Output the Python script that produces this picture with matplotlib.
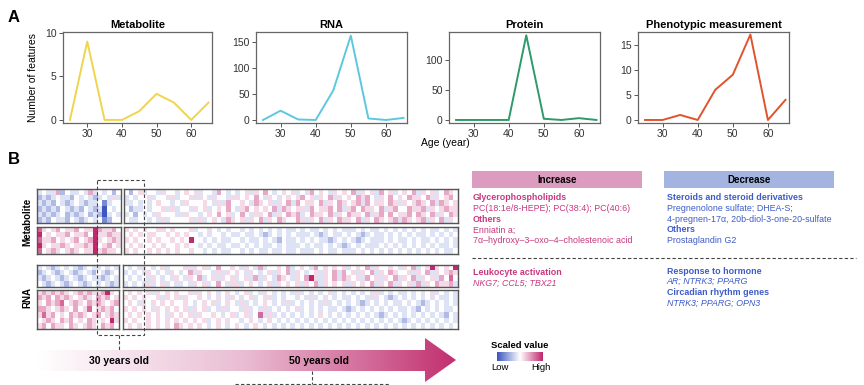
import numpy as np
import matplotlib
matplotlib.use("Agg")
import matplotlib.pyplot as plt
from matplotlib.colors import LinearSegmentedColormap
from matplotlib.patches import Polygon, Rectangle

plt.rcParams['font.family'] = ['Liberation Sans', 'DejaVu Sans']

# Panel A: number of features changing per age window
ages = [25, 30, 35, 40, 45, 50, 55, 60, 65]
metabolite = [0, 9, 0, 0, 1, 3, 2, 0, 2]
rna = [0, 18, 1, 0, 57, 163, 3, 0, 4]
protein = [0, 0, 0, 0, 140, 2, 0, 3, 0]
phenotype = [0, 0, 1, 0, 6, 9, 17, 0, 4]

# Panel B: scaled heatmap values, one digit per cell (4 = neutral, 0 = low, 8 = high)
# left block = young samples, right block = older samples
met_down_left = ["343362433436343424", "232343324343234353", "323243234323341344",
                 "232324323243230434", "323234232342320343", "232433243234341244"]
met_down_right = [
    "424534435443 454534436434 345354643454 534364543545 463545364534 546354534654",
    "343445344353 445354354435 545464354345 456453546354 546564354645 465546354564",
    "334343454434 354445435364 454365453546 364554635465 456364554653 545654636545",
    "423343445353 443545345464 356454546365 455364556463 564655463564 465563545655",
    "342434354443 354434546453 464355463546 563465546354 655463564645 564654635465",
    "433443435344 445353454365 453546354654 465354635465 546354654563 654563546354"]
met_up_left = ["754564556455865564", "845455645564855655", "755645456456854565",
               "854556545565845645", "745654565455856554"]
met_up_right = [
    "545454455454 445344543434 434343434343 343433434343 334343343434 343434334343",
    "454545544545 454434344343 343343234343 433343234334 343234334343 434334343434",
    "545445454454 548443434334 434334343243 343434332343 432343334343 343433434343",
    "454544545445 454434343343 343434334343 334343343432 343433343434 343434343343",
    "545445454545 445443434334 434343343343 343334343343 334343434343 434343434334"]
rna_down_left = ["343234343234334343", "234323432343243234",
                 "323432343234332343", "432343234323434323"]
rna_down_right = [
    "434354345344 453545346445 435436344546 345436454545 345463544543 546345854548",
    "343435434354 346354435354 543543453546 354345354636 453546354654 453546354565",
    "434343543435 435463453545 345363543654 354685354636 545364535463 546354536474",
    "343435345343 343545346435 534543453545 453546354545 354546354635 453635465563"]
rna_up_left = ["565656545656556854", "656465654565465645", "546567456546565456",
               "665456546457456564", "575645465654564565", "456546564546545485",
               "564655465456546564"]
rna_up_right = [
    "454545354545 445354543454 345343543434 353434345343 434343534343 343434534343",
    "545454453545 354454345435 434534353434 434353434343 343435343234 343434343343",
    "454354545454 454345453454 353434543435 343434353434 343234343433 434323434343",
    "545454354545 453545343534 435343534343 453434343343 234343434343 343243434334",
    "454545454354 545354454345 345347353434 343434543434 343434323434 343434343243",
    "545445454545 454545345454 434543454343 434343434343 434343434343 234343434343",
    "454545454546 545454345434 543454343434 343434343434 343434343434 343434343434"]

inc_color = "#c8387f"
dec_color = "#3d5cc6"
cmap = LinearSegmentedColormap.from_list("scaled", ["#3b56c0", "#ffffff", "#c2286e"])

W, H = 864, 385
fig = plt.figure(figsize=(W / 100, H / 100), dpi=100)


def px_axes(x0, y0, x1, y1):
    return fig.add_axes([x0 / W, 1 - y1 / H, (x1 - x0) / W, (y1 - y0) / H])


def parse(rows):
    a = np.array([[int(c) for c in r.replace(" ", "")] for r in rows], dtype=float)
    a = (a - 4) / 4
    return np.sign(a) * np.abs(a) ** 1.3


# ---- Panel A ----
line_panels = [
    ("Metabolite", metabolite, "#f0d44e", (63, 212), (-0.35, 10.1), [0, 5, 10]),
    ("RNA", rna, "#5cc8de", (256, 407), (-5.8, 170), [0, 50, 100, 150]),
    ("Protein", protein, "#2e9a68", (449, 600), (-5, 145.5), [0, 50, 100]),
    ("Phenotypic measurement", phenotype, "#e0532b", (638, 789), (-0.6, 17.5), [0, 5, 10, 15]),
]
for title, vals, col, (x0, x1), ylim, yt in line_panels:
    ax = px_axes(x0, 32, x1, 123)
    ax.plot(ages, vals, color=col, lw=1.4)
    ax.set_xlim(23, 66)
    ax.set_ylim(*ylim)
    ax.set_xticks([30, 40, 50, 60])
    ax.set_yticks(yt)
    ax.tick_params(length=3, width=0.7, color="#555555", labelsize=7.5,
                   labelcolor="#333333", pad=1.5)
    for s in ax.spines.values():
        s.set_color("#666666")
        s.set_linewidth(0.9)
    ax.set_title(title, fontsize=8, fontweight="bold", pad=3)

# ---- Panel B heatmaps ----
blocks = [
    (met_down_left, met_down_right, 189.3, 222.7, 120.7, 124.3),
    (met_up_left, met_up_right, 226.7, 254.3, 120.7, 124.3),
    (rna_down_left, rna_down_right, 264.7, 287.3, 119.0, 122.7),
    (rna_up_left, rna_up_right, 290.0, 329.3, 119.0, 122.7),
]
for left, right, y0, y1, xl1, xr0 in blocks:
    for rows, (x0, x1) in ((left, (37, xl1)), (right, (xr0, 457.7))):
        ax = px_axes(x0, y0, x1, y1)
        ax.imshow(parse(rows), cmap=cmap, vmin=-1, vmax=1, aspect="auto",
                  interpolation="nearest")
        ax.set_xticks([])
        ax.set_yticks([])
        for s in ax.spines.values():
            s.set_color("#555555")
            s.set_linewidth(1.0)

# colour legend
cax = px_axes(496.7, 352.3, 542.3, 361)
cax.imshow(np.linspace(-1, 1, 100)[None, :], cmap=cmap, vmin=-1, vmax=1, aspect="auto")
cax.axis("off")

# ---- overlay in pixel coordinates ----
ov = fig.add_axes([0, 0, 1, 1])
ov.set_xlim(0, W)
ov.set_ylim(H, 0)
ov.axis("off")
ov.set_zorder(10)

ov.text(8, 17, "A", fontsize=12, fontweight="bold", va="center")
ov.text(8, 160, "B", fontsize=12, fontweight="bold", va="center")
ov.text(33, 78, "Number of features", fontsize=7.5, rotation=90, ha="center", va="center")
ov.text(445, 143, "Age (year)", fontsize=7.5, ha="center", va="center")

ov.text(27, 222, "Metabolite", fontsize=7, fontweight="bold", rotation=90, ha="center", va="center")
ov.text(27, 298, "RNA", fontsize=7, fontweight="bold", rotation=90, ha="center", va="center")

# arrow with gradient
arrow = Polygon([(37, 350), (425, 350), (425, 338), (456, 360), (425, 382),
                 (425, 371), (37, 371)], closed=True, fc="none", ec="none")
ov.add_patch(arrow)
grad_cmap = LinearSegmentedColormap.from_list("arrow", ["#ffffff", "#e9bcd3", "#c2306f"])
im = ov.imshow(np.linspace(0, 1, 256)[None, :], cmap=grad_cmap, aspect="auto",
               extent=(37, 456, 382, 338), zorder=1)
im.set_clip_path(arrow)
ov.set_xlim(0, W)
ov.set_ylim(H, 0)
ov.text(119, 361, "30 years old", fontsize=7.5, fontweight="bold", ha="center", va="center", zorder=3)
ov.text(319, 361, "50 years old", fontsize=7.5, fontweight="bold", ha="center", va="center", zorder=3)

# dashed guides
dash = dict(color="#444444", lw=0.8, ls=(0, (3, 2)), zorder=4)
ov.add_patch(Rectangle((97, 180), 47, 155, fill=False, ec="#444444", lw=0.8,
                       ls=(0, (3, 2)), zorder=4))
ov.plot([119.3, 119.3], [335, 350], **dash)
ov.plot([311.7, 311.7], [371, 383.5], **dash)
ov.plot([235, 390], [383.5, 383.5], **dash)
ov.plot([472, 856], [257.7, 257.7], **dash)

# increase / decrease headers
ov.add_patch(Rectangle((471.7, 171), 170, 17.3, fc="#dc9cc0", ec="none"))
ov.add_patch(Rectangle((664, 171), 170, 17.3, fc="#a2b4df", ec="none"))
ov.text(556.7, 179.7, "Increase", fontsize=7, fontweight="bold", ha="center", va="center")
ov.text(749, 179.7, "Decrease", fontsize=7, fontweight="bold", ha="center", va="center")

fs = 6.4
inc_lines = [
    (197.7, "Glycerophospholipids", "bold", "normal"),
    (208.7, "PC(18:1e/8-HEPE); PC(38:4); PC(40:6)", "normal", "normal"),
    (219.3, "Others", "bold", "normal"),
    (230.0, "Enniatin a;", "normal", "normal"),
    (240.7, "7\u03b1\u2013hydroxy\u20133\u2013oxo\u20134\u2013cholestenoic acid", "normal", "normal"),
    (272.3, "Leukocyte activation", "bold", "normal"),
    (283.5, "NKG7; CCL5; TBX21", "normal", "italic"),
]
dec_lines = [
    (197.7, "Steroids and steroid derivatives", "bold", "normal"),
    (208.7, "Pregnenolone sulfate; DHEA-S;", "normal", "normal"),
    (219.3, "4-pregnen-17\u03b1, 20b-diol-3-one-20-sulfate", "normal", "normal"),
    (230.0, "Others", "bold", "normal"),
    (240.7, "Prostaglandin G2", "normal", "normal"),
    (271.0, "Response to hormone", "bold", "normal"),
    (281.7, "AR; NTRK3; PPARG", "normal", "italic"),
    (292.3, "Circadian rhythm genes", "bold", "normal"),
    (303.3, "NTRK3; PPARG; OPN3", "normal", "italic"),
]
for y, t, w, st in inc_lines:
    ov.text(472.7, y, t, fontsize=fs, fontweight=w, style=st, color=inc_color, va="center")
for y, t, w, st in dec_lines:
    ov.text(666.7, y, t, fontsize=fs, fontweight=w, style=st, color=dec_color, va="center")

ov.text(519.5, 345, "Scaled value", fontsize=6.8, fontweight="bold", ha="center", va="center")
ov.text(499.5, 367.7, "Low", fontsize=6.8, ha="center", va="center")
ov.text(541, 367.7, "High", fontsize=6.8, ha="center", va="center")

fig.savefig("out.png", dpi=100)
